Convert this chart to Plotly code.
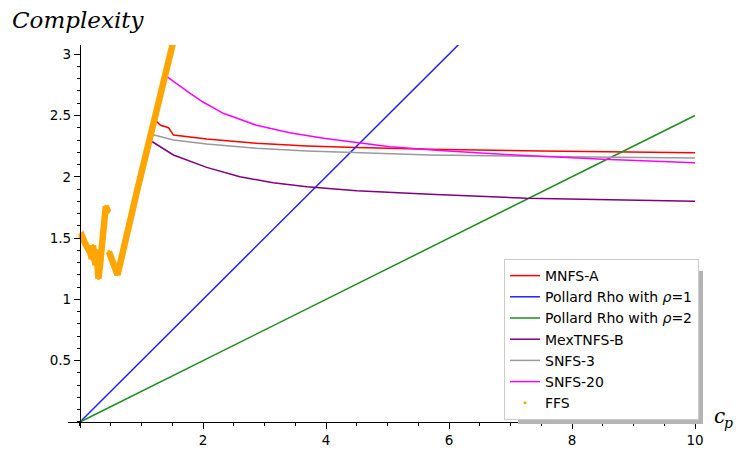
import plotly.graph_objects as go

# ---- data ----
mnfs_x = [1.22, 1.31, 1.38, 1.44, 1.52, 2.06, 2.87, 3.69, 4.5, 5.69, 7.5, 10.0]
mnfs_y = [2.463, 2.42, 2.41, 2.40, 2.34, 2.308, 2.273, 2.251, 2.238, 2.224, 2.21, 2.197]

rho1_x = [0.0, 10.0]
rho1_y = [0.0, 5.0]

rho2_x = [0.0, 10.0]
rho2_y = [0.0, 2.5]

mex_x = [1.13, 1.52, 2.06, 2.60, 3.14, 3.69, 4.5, 5.69, 7.26, 10.0]
mex_y = [2.30, 2.178, 2.077, 2.00, 1.952, 1.919, 1.887, 1.857, 1.825, 1.80]

snfs3_x = [1.14, 1.52, 2.06, 2.87, 3.69, 4.5, 5.69, 7.5, 10.0]
snfs3_y = [2.349, 2.30, 2.267, 2.232, 2.21, 2.197, 2.178, 2.165, 2.153]

snfs20_x = [1.39, 1.6, 1.79, 2.0, 2.33, 2.87, 3.41, 3.96, 4.5, 5.04, 5.85, 7.0, 8.51, 10.0]
snfs20_y = [2.825, 2.745, 2.68, 2.61, 2.518, 2.42, 2.36, 2.314, 2.278, 2.246, 2.215, 2.18, 2.143, 2.115]

ffs_x = [0.0, 0.03, 0.08, 0.13, 0.17, 0.19, 0.21, 0.23, 0.25, 0.27, 0.30, 0.33, 0.36, 0.39, 0.42, 0.46,
         None, 0.47, 0.53, 0.61, 0.93, 1.20, 1.55]
ffs_y = [1.51, 1.52, 1.46, 1.42, 1.38, 1.33, 1.44, 1.36, 1.28, 1.40, 1.17, 1.30, 1.45, 1.62, 1.76, 1.71,
         None, 1.39, 1.30, 1.20, 1.89, 2.45, 3.17]

x_ticks = [2, 4, 6, 8, 10]
x_labels = ["2", "4", "6", "8", "10"]
y_ticks = [0.5, 1, 1.5, 2, 2.5, 3]
y_labels = ["0.5", "1", "1.5", "2", "2.5", "3"]

# ---- layout geometry (page body has an 8px margin, so the figure is offset by 8px) ----
OFF = 8
W, H = 742 - 2 * OFF, 455 - OFF
ML, MR, MT, MB = 68 - OFF, 31, 45 - OFF, 27
PW = W - ML - MR
PH = H - MT - MB
XR = [-0.195, 10.13]
YR = [-0.049, 3.075]


def px_x(p):  # reference-picture x pixel -> paper fraction
    return (p - OFF - ML) / PW


def px_y(p):  # reference-picture y pixel -> paper fraction
    return (H - MB - (p - OFF)) / PH


fig = go.Figure()
lw = 1.5
series = [
    ("MNFS-A", mnfs_x, mnfs_y, "#ff0000"),
    ("Pollard Rho with <i>ρ</i>=1", rho1_x, rho1_y, "#2020ff"),
    ("Pollard Rho with <i>ρ</i>=2", rho2_x, rho2_y, "#1e8c1e"),
    ("MexTNFS-B", mex_x, mex_y, "#800080"),
    ("SNFS-3", snfs3_x, snfs3_y, "#9a9a9a"),
    ("SNFS-20", snfs20_x, snfs20_y, "#ff00ff"),
]
for name, xs, ys, c in series:
    fig.add_trace(go.Scatter(x=xs, y=ys, mode="lines", name=name,
                             line=dict(color=c, width=lw)))

fig.add_trace(go.Scatter(x=ffs_x, y=ffs_y, mode="lines", name="FFS", showlegend=False,
                         line=dict(color="#ffa500", width=6.5), connectgaps=False))
fig.add_trace(go.Scatter(x=ffs_x, y=ffs_y, mode="markers", name="FFS",
                         marker=dict(color="#ffa500", size=3)))

axis_font = dict(family="DejaVu Sans", size=13.5, color="black")
fig.update_xaxes(range=XR, anchor="free", position=(0 - YR[0]) / (YR[1] - YR[0]),
                 automargin=False,
                 showline=True, linecolor="black", linewidth=1.2,
                 tickmode="array", tickvals=x_ticks, ticktext=x_labels,
                 ticks="outside", ticklen=6, tickcolor="black", tickwidth=1,
                 minor=dict(dtick=0.5, tick0=0, ticks="outside", ticklen=3, tickcolor="black"),
                 showgrid=False, zeroline=False, tickfont=axis_font)
fig.update_yaxes(range=YR, anchor="free", position=(0 - XR[0]) / (XR[1] - XR[0]),
                 automargin=False,
                 showline=True, linecolor="black", linewidth=1.2,
                 tickmode="array", tickvals=y_ticks, ticktext=y_labels,
                 ticks="outside", ticklen=6, tickcolor="black", tickwidth=1,
                 minor=dict(dtick=0.1, tick0=0, ticks="outside", ticklen=3, tickcolor="black"),
                 showgrid=False, zeroline=False, tickfont=axis_font)

# legend shadow (sits behind the legend box, peeking out right and bottom)
LG_R, LG_B = 699, 420
LG_W, LG_H = 193, 161
fig.add_shape(type="rect", xref="paper", yref="paper", layer="above",
              x0=px_x(LG_R - LG_W + 12), x1=px_x(LG_R + 4),
              y0=px_y(LG_B + 4), y1=px_y(LG_B - LG_H + 12),
              fillcolor="#b4b4b4", line=dict(width=0))

serif = "DejaVu Serif"
fig.update_layout(
    width=W, height=H,
    margin=dict(l=ML, r=MR, t=MT, b=MB),
    plot_bgcolor="white", paper_bgcolor="white",
    legend=dict(x=px_x(LG_R), y=px_y(LG_B), xanchor="right", yanchor="bottom",
                bgcolor="white", bordercolor="#cccccc", borderwidth=1,
                font=dict(family="DejaVu Sans", size=14, color="black"),
                itemwidth=30, tracegroupgap=0),
    annotations=[
        dict(text="<i>Complexity</i>", xref="paper", yref="paper",
             x=px_x(10), y=px_y(35), xanchor="left", yanchor="bottom",
             showarrow=False, font=dict(family=serif, size=23, color="black")),
        dict(text="<i>c</i>", xref="paper", yref="paper",
             x=px_x(712), y=px_y(416), xanchor="left", yanchor="middle",
             showarrow=False, font=dict(family=serif, size=20, color="black")),
        dict(text="<i>p</i>", xref="paper", yref="paper",
             x=px_x(722), y=px_y(423), xanchor="left", yanchor="middle",
             showarrow=False, font=dict(family=serif, size=14, color="black")),
    ],
)

fig.write_html("out.html")
